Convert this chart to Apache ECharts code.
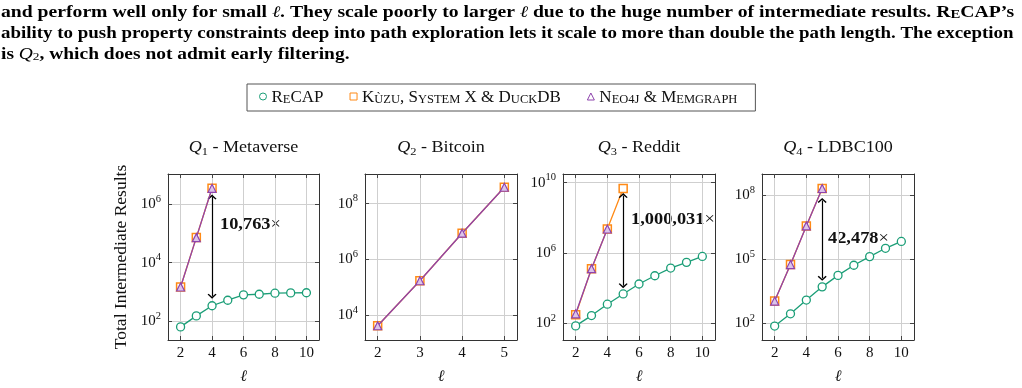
<!DOCTYPE html>
<html><head><meta charset="utf-8">
<script src="https://cdn.jsdelivr.net/npm/echarts@6/dist/echarts.min.js"></script>
<style>html,body{margin:0;padding:0;background:#fff}#c{width:1022px;height:388px}</style>
</head><body><div id="c"></div><script>
// ---------- data ----------
const SERIES_NAMES = ['ReCAP', 'Kùzu, System X & DuckDB', 'Neo4j & Memgraph'];
const ell = [2, 3, 4, 5, 6, 7, 8, 9, 10];
const xTicksLong = [2, 4, 6, 8, 10];
const xTicksShort = [2, 3, 4, 5];
// Q1 - Metaverse
const recapQ1 = [62, 148, 330, 510, 780, 820, 890, 910, 920];
const kuzuQ1 = [1450, 72000, 3.55e6];
const neoQ1 = [1450, 72000, 3.55e6];
const yTicksQ1 = [1e2, 1e4, 1e6];
// Q2 - Bitcoin
const kuzuQ2 = [4100, 1.7e5, 8.7e6, 3.9e8];
const neoQ2 = [4100, 1.7e5, 8.7e6, 3.9e8];
const yTicksQ2 = [1e4, 1e6, 1e8];
// Q3 - Reddit
const recapQ3 = [70, 270, 1200, 4600, 17000, 50000, 137000, 290000, 630000];
const kuzuQ3 = [300, 1.26e5, 2.3e7, 4.6e9];
const neoQ3 = [340, 1.26e5, 2.3e7];
const yTicksQ3 = [1e2, 1e6, 1e10];
// Q4 - LDBC100
const recapQ4 = [70, 265, 1170, 4900, 17000, 51000, 130000, 320000, 670000];
const kuzuQ4 = [1050, 55000, 3.6e6, 2.08e8];
const neoQ4 = [1050, 55000, 3.6e6, 2.08e8];
const yTicksQ4 = [1e2, 1e5, 1e8];
// speed-up annotations
const speedupText = ['10,763', '1,000,031', '42,478'];
const speedupAt = [4, 5, 5];
const panelTitles = [['1', ' - Metaverse'], ['2', ' - Bitcoin'], ['3', ' - Reddit'], ['4', ' - LDBC100']];

// ---------- styling / layout ----------
const teal = '#1b9e77', orange = '#ff8a16', purple = '#8e44ad';
const SERIF = '"Liberation Serif", "DejaVu Serif", serif';
const INK = '#111';
const CHEV = 'path://M0,9 L10,0 L20,9 L17.6,11 L10,4.2 L2.4,11 Z';

const panels = [
  { grid: { left: 168, top: 174, width: 151, height: 166 }, x: [1.2, 10.8], xt: xTicksLong, y: [22, 1.1e7], yt: yTicksQ1,
    recap: recapQ1, kuzu: kuzuQ1, neo: neoQ1, arrow: 0, gaps: [0.3, 0.33], lab: [220, 223] },
  { grid: { left: 365, top: 174, width: 152, height: 166 }, x: [1.7, 5.3], xt: xTicksShort, y: [1260, 1.17e9], yt: yTicksQ2,
    recap: null, kuzu: kuzuQ2, neo: neoQ2, arrow: -1 },
  { grid: { left: 563, top: 174, width: 152, height: 166 }, x: [1.2, 10.8], xt: xTicksLong, y: [11, 3.1e10], yt: yTicksQ3,
    recap: recapQ3, kuzu: kuzuQ3, neo: neoQ3, arrow: 1, gaps: [0.4, 0.47], lab: [631, 218] },
  { grid: { left: 762, top: 174, width: 152, height: 166 }, x: [1.2, 10.8], xt: xTicksLong, y: [15.5, 1e9], yt: yTicksQ4,
    recap: recapQ4, kuzu: kuzuQ4, neo: neoQ4, arrow: 2, gaps: [0.56, 0.4], lab: [828, 237] }
];

function pairs(ys) { return ys.map((v, i) => [ell[i], v]); }
function supLabel(v) { const e = Math.round(Math.log10(v)); return '{n|10}{sup|' + e + '}'; }

const tickRich = {
  n: { fontSize: 15, fontFamily: SERIF, color: INK, lineHeight: 21 },
  sup: { fontSize: 10.5, fontFamily: SERIF, color: INK, verticalAlign: 'top' }
};

const grid = [], xAxis = [], yAxis = [], series = [], graphic = [];

panels.forEach((p, k) => {
  grid.push(Object.assign({ containLabel: false }, p.grid));
  const axBase = { gridIndex: k, axisLine: { show: true, lineStyle: { color: '#333', width: 1 } } };
  xAxis.push(Object.assign({}, axBase, {
    type: 'value', min: p.x[0], max: p.x[1], position: 'bottom',
    axisTick: { show: true, inside: true, length: 4, customValues: p.xt, lineStyle: { color: '#444' } },
    axisLabel: { customValues: p.xt, margin: 6, fontFamily: SERIF, fontSize: 15, color: INK },
    splitLine: { show: true, lineStyle: { color: '#cfcfcf', width: 1 } },
    name: 'ℓ', nameLocation: 'middle', nameGap: 29,
    nameTextStyle: { fontFamily: SERIF, fontStyle: 'italic', fontSize: 16, color: INK }
  }));
  xAxis.push(Object.assign({}, axBase, {
    type: 'value', min: p.x[0], max: p.x[1], position: 'top',
    axisTick: { show: true, inside: true, length: 4, customValues: p.xt, lineStyle: { color: '#444' } },
    axisLabel: { show: false }, splitLine: { show: false }
  }));
  yAxis.push(Object.assign({}, axBase, {
    type: 'log', logBase: 10, min: p.y[0], max: p.y[1], position: 'left',
    axisTick: { show: true, inside: true, length: 4, customValues: p.yt, lineStyle: { color: '#444' } },
    axisLabel: { customValues: p.yt, formatter: supLabel, margin: 7, rich: tickRich },
    splitLine: { show: true, lineStyle: { color: '#cfcfcf', width: 1 } },
    name: k === 0 ? 'Total Intermediate Results' : '', nameLocation: 'middle', nameGap: 38,
    nameTextStyle: { fontFamily: SERIF, fontSize: 17.5, color: INK }
  }));
  yAxis.push(Object.assign({}, axBase, {
    type: 'log', logBase: 10, min: p.y[0], max: p.y[1], position: 'right',
    axisTick: { show: true, inside: true, length: 4, customValues: p.yt, lineStyle: { color: '#444' } },
    axisLabel: { show: false }, splitLine: { show: false }
  }));
  const xi = 2 * k, yi = 2 * k;
  const common = { type: 'line', xAxisIndex: xi, yAxisIndex: yi, symbolSize: 8, animation: false,
    emphasis: { disabled: true }, silent: true };
  if (p.recap) {
    const s = Object.assign({}, common, {
      name: SERIES_NAMES[0], data: pairs(p.recap), symbol: 'circle', z: 3,
      itemStyle: { color: '#fff', borderColor: teal, borderWidth: 1.3 },
      lineStyle: { color: teal, width: 1.3 }
    });
    if (p.arrow >= 0) {
      const xv = speedupAt[p.arrow];
      const idx = ell.indexOf(xv);
      const top = p.kuzu[idx] / Math.pow(10, p.gaps[0]);
      const bot = p.recap[idx] * Math.pow(10, p.gaps[1]);
      s.markLine = {
        silent: true, animation: false, symbol: [CHEV, CHEV], symbolSize: [9, 5],
        lineStyle: { color: '#000', width: 1.2, type: 'solid' }, label: { show: false },
        emphasis: { disabled: true },
        data: [[{ coord: [xv, top] }, { coord: [xv, bot] }]]
      };
    }
    series.push(s);
  }
  series.push(Object.assign({}, common, {
    name: SERIES_NAMES[1], data: pairs(p.kuzu), symbol: 'rect', z: 4,
    itemStyle: { color: '#fff', borderColor: orange, borderWidth: 1.5 },
    lineStyle: { color: orange, width: 1.3 }
  }));
  series.push(Object.assign({}, common, {
    name: SERIES_NAMES[2], data: pairs(p.neo), symbol: 'triangle', z: 5,
    itemStyle: { color: '#dcc4ea', borderColor: purple, borderWidth: 1.2 },
    lineStyle: { color: purple, width: 1.3 }
  }));
  graphic.push({
    type: 'text', x: p.grid.left + p.grid.width / 2, y: 148, scaleX: 1.13, silent: true,
    style: {
      text: '{q|Q}{s|' + panelTitles[k][0] + '}{t|' + panelTitles[k][1] + '}',
      align: 'center', verticalAlign: 'middle',
      rich: {
        q: { fontFamily: SERIF, fontStyle: 'italic', fontSize: 16, fill: INK, lineHeight: 20 },
        s: { fontFamily: SERIF, fontSize: 11, fill: INK, verticalAlign: 'bottom' },
        t: { fontFamily: SERIF, fontSize: 16, fill: INK, lineHeight: 20 }
      }
    }
  });
  if (p.arrow >= 0) {
    graphic.push({
      type: 'text', x: p.lab[0], y: p.lab[1], scaleX: 1.08, silent: true,
      style: {
        text: '{b|' + speedupText[p.arrow] + '}{x|×}', align: 'left', verticalAlign: 'middle',
        rich: {
          b: { fontFamily: SERIF, fontWeight: 'bold', fontSize: 17, fill: INK, verticalAlign: 'bottom', lineHeight: 20 },
          x: { fontFamily: SERIF, fontSize: 17, fill: INK, verticalAlign: 'bottom', lineHeight: 20 }
        }
      }
    });
  }
});

// caption text at the top (paragraph from the paper)
const capRich = {
  t: { fontFamily: SERIF, fontWeight: 'bold', fontSize: 16, fill: '#000', verticalAlign: 'bottom', lineHeight: 20 },
  s: { fontFamily: SERIF, fontWeight: 'bold', fontSize: 12, fill: '#000', verticalAlign: 'bottom', lineHeight: 20 },
  i: { fontFamily: SERIF, fontStyle: 'italic', fontSize: 16, fill: '#000', verticalAlign: 'bottom', lineHeight: 20 },
  sub: { fontFamily: SERIF, fontSize: 11, fill: '#000', verticalAlign: 'bottom', lineHeight: 17 }
};
const captionLines = [
  '{t|and perform well only for small }{i|ℓ}{t|. They scale poorly to larger }{i|ℓ}{t| due to the huge number of intermediate results. R}{s|E}{t|CAP’s}',
  '{t|ability to push property constraints deep into path exploration lets it scale to more than double the path length. The exception}',
  '{t|is }{i|Q}{sub|2}{t|, which does not admit early filtering.}'
];
const captionStretch = [1.229, 1.183, 1.215];
captionLines.forEach((txt, i) => {
  graphic.push({ type: 'text', x: 1, y: 11 + i * 21, scaleX: captionStretch[i], silent: true,
    style: { text: txt, align: 'left', verticalAlign: 'middle', rich: capRich } });
});

const legendRich = {
  b: { fontFamily: SERIF, fontSize: 17, color: INK, verticalAlign: 'bottom', lineHeight: 19 },
  s: { fontFamily: SERIF, fontSize: 12.5, color: INK, verticalAlign: 'bottom', lineHeight: 19 }
};
const legendText = {};
legendText[SERIES_NAMES[0]] = '{b|R}{s|E}{b|CAP}';
legendText[SERIES_NAMES[1]] = '{b|K}{s|ÙZU}{b|, S}{s|YSTEM}{b| X & D}{s|UCK}{b|DB}';
legendText[SERIES_NAMES[2]] = '{b|N}{s|EO4J}{b| & M}{s|EMGRAPH}';

const option = {
  animation: false,
  backgroundColor: '#fff',
  grid, xAxis, yAxis, series, graphic,
  legend: {
    left: 247, top: 84, orient: 'horizontal', selectedMode: false,
    itemWidth: 7, itemHeight: 7, itemGap: 26, padding: [5, 18, 5, 12],
    borderColor: '#555', borderWidth: 1,
    data: [
      { name: SERIES_NAMES[0], icon: 'circle', itemStyle: { color: '#fff', borderColor: teal, borderWidth: 1 } },
      { name: SERIES_NAMES[1], icon: 'rect', itemStyle: { color: '#fff', borderColor: orange, borderWidth: 1 } },
      { name: SERIES_NAMES[2], icon: 'triangle', itemStyle: { color: '#fff', borderColor: purple, borderWidth: 1 } }
    ],
    formatter: n => legendText[n],
    textStyle: { fontFamily: SERIF, fontSize: 17, color: INK, rich: legendRich }
  }
};
const chart = echarts.init(document.getElementById('c'), null, { renderer: 'canvas' });
chart.setOption(option);
</script></body></html>
